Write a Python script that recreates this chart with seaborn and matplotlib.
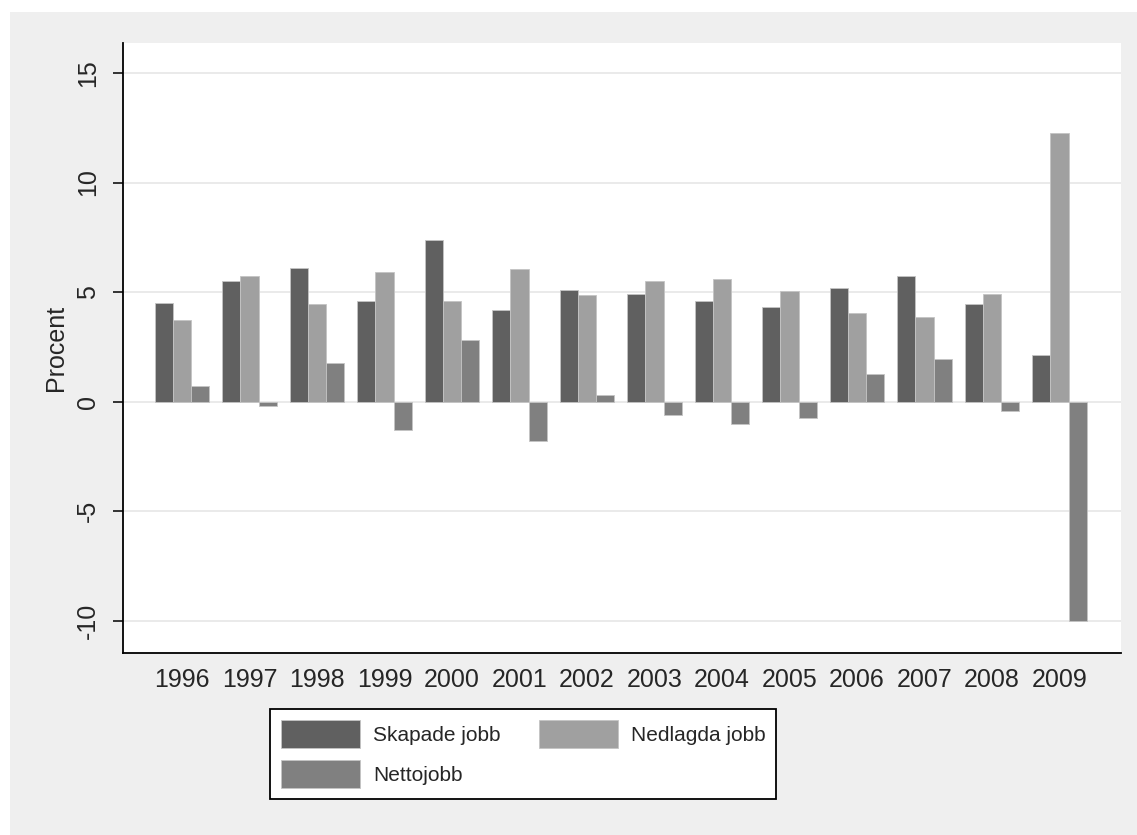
import matplotlib
matplotlib.use("Agg")
import matplotlib.pyplot as plt
import pandas as pd
import seaborn as sns
from matplotlib import font_manager
from matplotlib.patches import Rectangle

# data (percent)
years = ['1996', '1997', '1998', '1999', '2000', '2001', '2002',
         '2003', '2004', '2005', '2006', '2007', '2008', '2009']
skapade = [4.5, 5.5, 6.1, 4.6, 7.4, 4.2, 5.1, 4.9, 4.6, 4.3, 5.2, 5.75, 4.47, 2.15]
nedlagda = [3.75, 5.75, 4.45, 5.9, 4.6, 6.05, 4.85, 5.5, 5.6, 5.05, 4.05, 3.85, 4.92, 12.25]
netto = [0.7, -0.2, 1.75, -1.3, 2.8, -1.8, 0.3, -0.6, -1.0, -0.75, 1.25, 1.93, -0.43, -10.0]
series = ['Skapade jobb', 'Nedlagda jobb', 'Nettojobb']
colors = ['#606060', '#a0a0a0', '#808080']

# long table for seaborn
df = pd.concat([
    pd.DataFrame({'year': years, 'value': vals, 'serie': name})
    for name, vals in zip(series, [skapade, nedlagda, netto])
], ignore_index=True)

sns.set_style('white')
plt.rcParams['font.family'] = ['Liberation Sans', 'DejaVu Sans']
plt.rcParams['axes.unicode_minus'] = False
fs = 18

# legend text in the original is narrower than the tick labels
installed = {f.name for f in font_manager.fontManager.ttflist}
if 'Liberation Sans Narrow' in installed:
    leg_font = {'family': 'Liberation Sans Narrow', 'size': fs}
else:
    leg_font = {'family': 'Liberation Sans', 'size': 15}

fig = plt.figure(figsize=(11.37, 8.35), dpi=100, facecolor='white')
# stata-like grey graph region
fig.patches.append(Rectangle((0.0088, 0), 1, 0.9856, transform=fig.transFigure,
                             facecolor='#efefef', edgecolor='none', zorder=-10))
ax = fig.add_axes([0.1084, 0.2183, 0.8775, 0.7298])
ax.set_facecolor('white')

sns.barplot(data=df, x='year', y='value', hue='serie', hue_order=series,
            palette=colors, saturation=1, width=0.81, ax=ax,
            edgecolor='#c4c4c4', linewidth=0.6, errorbar=None)

# axes formatting
ax.set_ylim(-11.45, 16.35)
ax.set_xlim(-0.87, 13.91)
ax.set_yticks([-10, -5, 0, 5, 10, 15])
ax.set_axisbelow(True)
ax.grid(axis='y', color='#e8e8e8', lw=1.3)
ax.grid(axis='x', visible=False)
for side in ['top', 'right']:
    ax.spines[side].set_visible(False)
for side in ['left', 'bottom']:
    ax.spines[side].set_color('black')
    ax.spines[side].set_linewidth(1.3)

ax.tick_params(axis='y', left=True, length=7.5, width=1.1, color='black',
               labelsize=fs, pad=9, labelrotation=90)
for lab in ax.get_yticklabels():
    lab.set_va('center')
ax.tick_params(axis='x', bottom=False, length=0, labelsize=fs, pad=11)
ax.set_xlabel('')
ax.set_ylabel('Procent', fontsize=fs, labelpad=6)

# legend: row-wise order, boxed below plot
leg = ax.get_legend()
handles = leg.legend_handles
labels = [t.get_text() for t in leg.get_texts()]
leg.remove()
order = [0, 2, 1]
px = leg_font['size'] * 100 / 72  # font size in pixels
# matplotlib shrinks the handle box by a descent term, solve for 28 px
hh = (28 / px - 0.245) / 0.65
fig.legend([handles[i] for i in order], [labels[i] for i in order],
           ncol=2, loc='upper left', bbox_to_anchor=(0.2375, 0.1509),
           bbox_transform=fig.transFigure, borderaxespad=0,
           prop=leg_font, handlelength=79 / px, handleheight=hh,
           handletextpad=13 / px, columnspacing=38 / px, labelspacing=12 / px,
           borderpad=11 / px, fancybox=False, frameon=True,
           edgecolor='black', facecolor='white', framealpha=1)
fig.legends[0].get_frame().set_linewidth(1.3)

plt.savefig('out.png', dpi=100, facecolor=fig.get_facecolor())
